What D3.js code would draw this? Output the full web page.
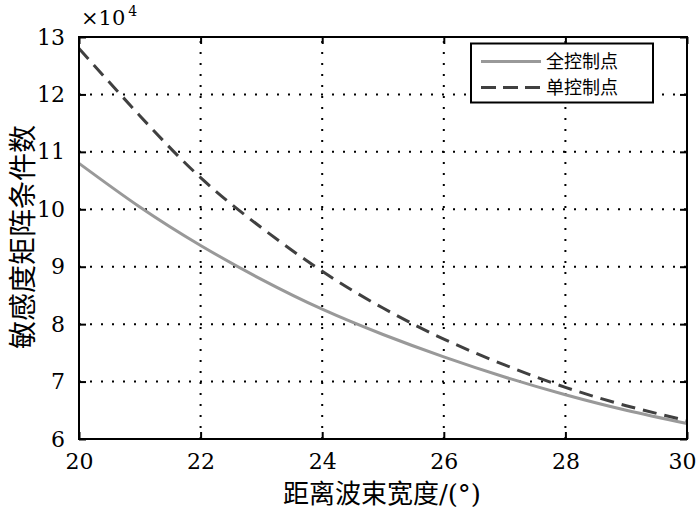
<!DOCTYPE html>
<html><head><meta charset="utf-8">
<script src="https://cdn.jsdelivr.net/npm/d3@7/dist/d3.min.js"></script>
<style>body{margin:0;background:#fff}</style>
</head><body>
<svg id="c" width="700" height="510"></svg>
<script>
const xValues = [20, 21, 22, 23, 24, 25, 26, 27, 28, 29, 30];
const fullControl = [10.80, 10.04, 9.37, 8.78, 8.26, 7.82, 7.43, 7.08, 6.77, 6.50, 6.27];
const singleControl = [12.80, 11.63, 10.55, 9.68, 8.92, 8.28, 7.74, 7.29, 6.90, 6.58, 6.32];
const seriesNames = ["全控制点", "单控制点"];
const xTicks = [20, 22, 24, 26, 28, 30];
const yTicks = [6, 7, 8, 9, 10, 11, 12, 13];
const xTitle = "距离波束宽度/(°)";
const yTitle = "敏感度矩阵条件数";

const L = 79, R = 687, T = 37, B = 439;
const svg = d3.select("#c");
const x = d3.scaleLinear().domain([20, 30]).range([L, R]);
const y = d3.scaleLinear().domain([6, 13]).range([B, T]);
const serif = '"DejaVu Serif", "Liberation Serif", serif';
const cjk = '"DejaVu Serif", "Noto Sans CJK SC", serif';

// grid
const g = svg.append("g");
g.selectAll(".gx").data(xTicks.slice(1, -1)).enter().append("line")
  .attr("x1", d => x(d)).attr("x2", d => x(d)).attr("y1", B).attr("y2", T)
  .attr("stroke", "#000").attr("stroke-width", 2).attr("stroke-dasharray", "2,9");
g.selectAll(".gy").data(yTicks.slice(1, -1)).enter().append("line")
  .attr("y1", d => y(d)).attr("y2", d => y(d)).attr("x1", L).attr("x2", R)
  .attr("stroke", "#000").attr("stroke-width", 2).attr("stroke-dasharray", "2,9");

// axes
const ax = svg.append("g").attr("transform", `translate(0,${B})`)
  .call(d3.axisBottom(x).tickValues(xTicks).tickSize(-7).tickPadding(14).tickFormat(d3.format("d")));
const axT = svg.append("g").attr("transform", `translate(0,${T})`)
  .call(d3.axisTop(x).tickValues(xTicks).tickSize(-7).tickFormat(""));
const ay = svg.append("g").attr("transform", `translate(${L},0)`)
  .call(d3.axisLeft(y).tickValues(yTicks).tickSize(-7).tickPadding(14).tickFormat(d3.format("d")));
const ayR = svg.append("g").attr("transform", `translate(${R},0)`)
  .call(d3.axisRight(y).tickValues(yTicks).tickSize(-7).tickFormat(""));
[ax, axT, ay, ayR].forEach(a => {
  a.attr("font-family", serif).attr("font-size", 22);
  a.select(".domain").remove();
  a.selectAll(".tick line").attr("stroke", "#000").attr("stroke-width", 2);
  a.selectAll("text").attr("fill", "#000");
});
ax.selectAll("text").attr("dy", "0.71em");
ax.selectAll(".tick").filter(d => d === 30).select("text").attr("dx", -5);

// lines
const line = d3.line().x((d, i) => x(xValues[i])).y(d => y(d)).curve(d3.curveNatural);
svg.append("path").datum(fullControl).attr("d", line).attr("fill", "none")
  .attr("stroke", "#999").attr("stroke-width", 3);
svg.append("path").datum(singleControl).attr("d", line).attr("fill", "none")
  .attr("stroke", "#404040").attr("stroke-width", 3).attr("stroke-dasharray", "14,8");

// frame
svg.append("rect").attr("x", L).attr("y", T).attr("width", R - L).attr("height", B - T)
  .attr("fill", "none").attr("stroke", "#000").attr("stroke-width", 2);

// legend
const lg = svg.append("g");
lg.append("rect").attr("x", 471).attr("y", 43.5).attr("width", 182).attr("height", 59)
  .attr("fill", "#fff").attr("stroke", "#000").attr("stroke-width", 2);
const legRows = [{name: seriesNames[0], color: "#999", dash: null, yy: 61.5},
                 {name: seriesNames[1], color: "#404040", dash: "15,7", yy: 87.5}];
legRows.forEach(r => {
  lg.append("line").attr("x1", 481).attr("x2", 541).attr("y1", r.yy).attr("y2", r.yy)
    .attr("stroke", r.color).attr("stroke-width", 3).attr("stroke-dasharray", r.dash);
  lg.append("text").attr("x", 546).attr("y", r.yy).attr("dy", "0.36em")
    .attr("font-family", '"Noto Sans CJK SC", sans-serif').attr("font-size", 18).attr("fill", "#000")
    .text(r.name);
});

// titles
svg.append("text").attr("x", (L + R) / 2 - 1).attr("y", 503).attr("text-anchor", "middle")
  .attr("font-family", cjk).attr("font-size", 26).attr("fill", "#000").text(xTitle);
svg.append("text").attr("transform", "translate(33,237) rotate(-90)").attr("text-anchor", "middle")
  .attr("font-family", cjk).attr("font-size", 28).attr("fill", "#000").text(yTitle);

// multiplier
const m = svg.append("text").attr("x", 81).attr("y", 25).attr("font-family", serif)
  .attr("font-size", 21).attr("fill", "#000");
m.append("tspan").text("×10");
m.append("tspan").attr("font-size", 14).attr("dy", -9).attr("dx", 3).text("4");
</script>
</body></html>
